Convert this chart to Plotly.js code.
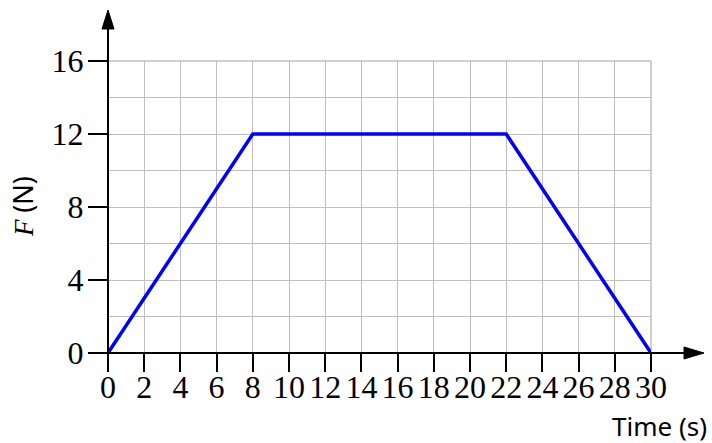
<!DOCTYPE html>
<html>
<head>
<meta charset="utf-8">
<script src="https://cdn.plot.ly/plotly-3.0.1.min.js"></script>
<style>html,body{margin:0;padding:0;background:#fff;}#chart{width:712px;height:443px;}</style>
</head>
<body>
<div id="chart"></div>
<script>
const timeValues = [0, 8, 22, 30];
const forceValues = [0, 12, 12, 0];
const xTickValues = [0,2,4,6,8,10,12,14,16,18,20,22,24,26,28,30];
const yTickValues = [0,4,8,12,16];
const xTitle = 'Time (s)';
const yTitle = '<i>F</i> <span style="font-family:\'Noto Sans\', sans-serif;font-style:normal">(N)</span>';

const W = 712, H = 443;
const m = {l:108, r:61, t:61, b:90};
const pw = W - m.l - m.r, ph = H - m.t - m.b;
const px = v => (v - m.l) / pw;        // pixel x -> paper
const py = v => (H - m.b - v) / ph;    // pixel y -> paper

const trace = {
  x: timeValues, y: forceValues, type: 'scatter', mode: 'lines',
  line: {color: '#0000ff', width: 3.5}, hoverinfo: 'skip', cliponaxis: false
};

const gridCol = '#bfbfbf';
const layout = {
  width: W, height: H, margin: m,
  paper_bgcolor: '#fff', plot_bgcolor: '#fff',
  showlegend: false,
  xaxis: {
    range: [0, 30], tickvals: xTickValues, ticktext: xTickValues.map(String),
    showgrid: true, gridcolor: gridCol, gridwidth: 1,
    zeroline: false, showline: false,
    ticks: 'outside', ticklen: 18, tickwidth: 2, tickcolor: '#000',
    ticklabelstandoff: -12,
    tickfont: {family: 'Liberation Serif, serif', size: 32, color: '#000'},
    fixedrange: true
  },
  yaxis: {
    range: [0, 16], tickvals: yTickValues, ticktext: yTickValues.map(String),
    showgrid: true, gridcolor: gridCol, gridwidth: 1,
    minor: {dtick: 2, tick0: 0, showgrid: true, gridcolor: gridCol, gridwidth: 1},
    zeroline: false, showline: false,
    ticks: 'outside', ticklen: 19, tickwidth: 2, tickcolor: '#000',
    ticklabelstandoff: -2,
    tickfont: {family: 'Liberation Serif, serif', size: 32, color: '#000'},
    fixedrange: true
  },
  shapes: [
    {type:'line', xref:'paper', yref:'paper', x0:0, x1:1, y0:1, y1:1, line:{color:gridCol, width:1.5}, layer:'below'},
    {type:'line', xref:'paper', yref:'paper', x0:1, x1:1, y0:0, y1:1, line:{color:gridCol, width:1.5}, layer:'below'},
    // x axis
    {type:'line', xref:'paper', yref:'paper', x0:px(89), x1:px(690), y0:0, y1:0, line:{color:'#000', width:2}},
    {type:'path', xref:'paper', yref:'paper',
     path:`M ${px(704)} 0 L ${px(684)} ${py(347)} L ${px(684)} ${py(359)} Z`,
     fillcolor:'#000', line:{color:'#000', width:1}},
    // y axis
    {type:'line', xref:'paper', yref:'paper', x0:0, x1:0, y0:py(371), y1:py(22), line:{color:'#000', width:2}},
    {type:'path', xref:'paper', yref:'paper',
     path:`M 0 ${py(10)} L ${px(102)} ${py(29)} L ${px(114)} ${py(29)} Z`,
     fillcolor:'#000', line:{color:'#000', width:1}}
  ],
  annotations: [
    {text: xTitle, xref:'paper', yref:'paper', x: px(709), y: py(426), xanchor:'right', yanchor:'middle',
     showarrow:false, font:{family:'Noto Sans, sans-serif', size:26, color:'#000'}},
    {text: yTitle, xref:'paper', yref:'paper', x: px(22), y: py(207), xanchor:'center', yanchor:'middle',
     textangle:-90, showarrow:false, font:{family:'Liberation Serif, serif', size:27, color:'#000'}}
  ]
};

Plotly.newPlot('chart', [trace], layout, {displayModeBar:false, staticPlot:true});
</script>
</body>
</html>
